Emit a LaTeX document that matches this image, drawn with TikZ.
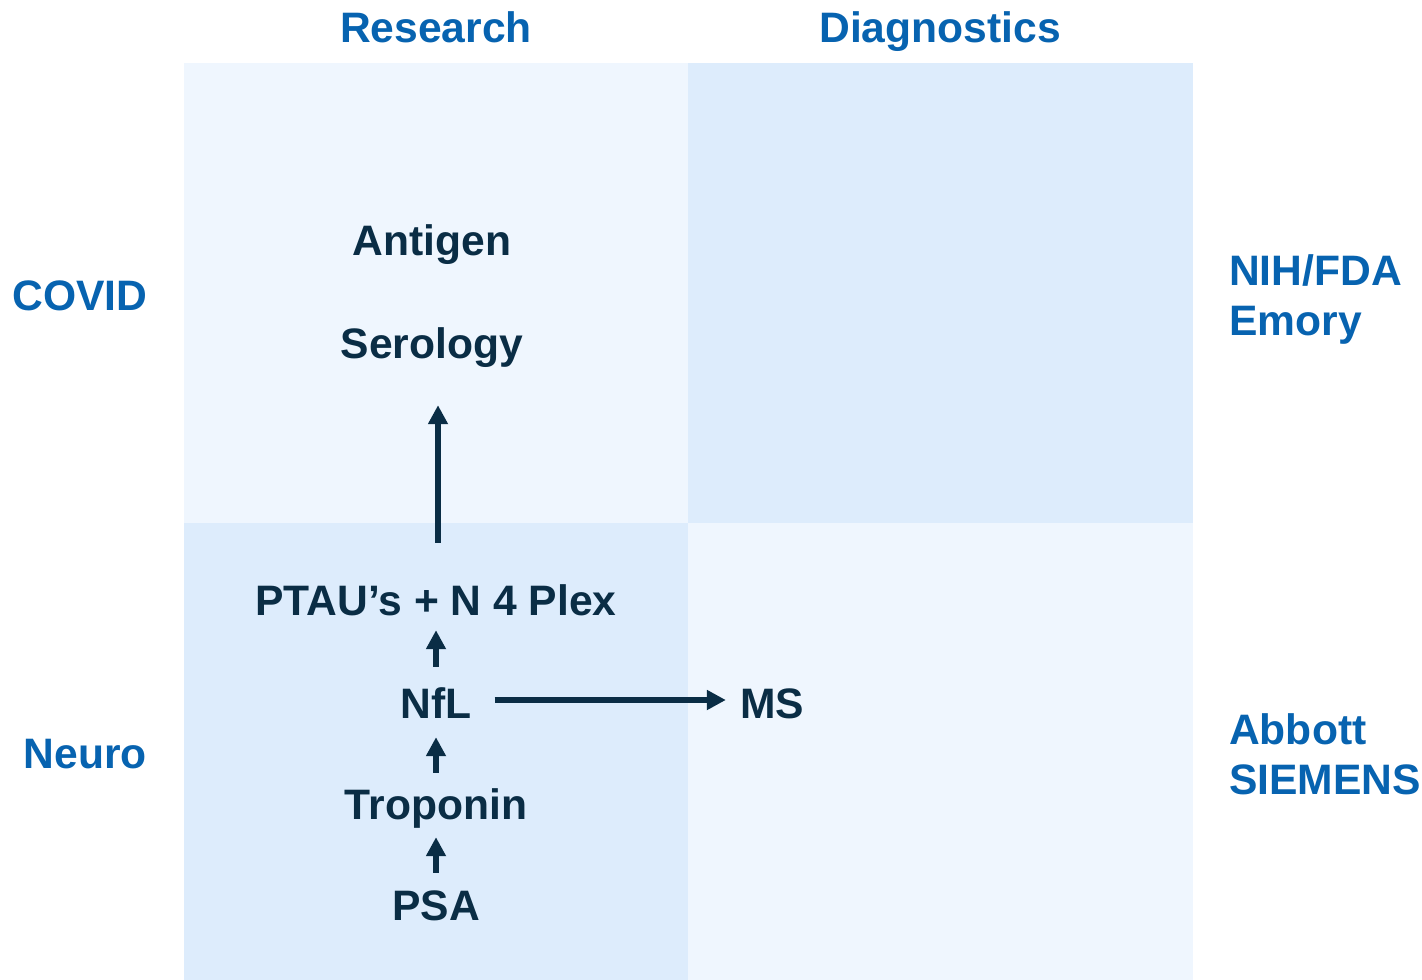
\documentclass[tikz,border=0pt]{standalone}
\usepackage{fontspec}
\setmainfont{Liberation Sans}
\usetikzlibrary{arrows.meta}
\definecolor{cellLight}{HTML}{EFF6FE}
\definecolor{cellDark}{HTML}{DDECFC}
\definecolor{headBlue}{HTML}{0763B0}
\definecolor{itemDark}{HTML}{0A2D45}
\tikzset{
  hdr/.style={font=\fontsize{42.6}{50}\selectfont\bfseries, text=headBlue, inner sep=0pt, anchor=base, text height=30pt, text depth=0pt},
  side/.style={hdr, anchor=base west},
  item/.style={font=\fontsize{42.6}{50}\selectfont\bfseries, text=itemDark, inner sep=0pt, anchor=base, text height=30pt, text depth=0pt},
  arr/.style={draw=itemDark, line width=6pt, -{Triangle[width=19pt,length=19pt]}}
}
\begin{document}
\begin{tikzpicture}[x=1pt,y=-1pt]
\useasboundingbox (0,0) rectangle (1422,980);
\fill[white] (0,0) rectangle (1422,980);
% grid cells
\fill[cellLight] (184,63) rectangle (688,523);
\fill[cellDark] (688,63) rectangle (1193,523);
\fill[cellDark] (184,523) rectangle (688,980);
\fill[cellLight] (688,523) rectangle (1193,980);
% headers
\node[hdr] (research) at (436,42) {Research};
\node[hdr] (diag) at (940,42) {Diagnostics};
\node[hdr] (covid) at (80,310) {COVID};
\node[hdr, anchor=base east] (neuro) at (147,768) {Neuro};
\node[side] (nih) at (1229,285) {NIH/FDA};
\node[side] (emory) at (1229,335) {Emory};
\node[side] (abbott) at (1229,744) {Abbott};
\node[side] (siemens) at (1229,794) {SIEMENS};
% items
\node[item] (antigen) at (432,255) {Antigen};
\node[item] (serology) at (432,358) {Serology};
\node[item] (ptau) at (436,615) {PTAU’s + N 4 Plex};
\node[item] (nfl) at (436,718) {NfL};
\node[item] (troponin) at (436,819) {Troponin};
\node[item] (psa) at (436,920) {PSA};
\node[item] (ms) at (772,718) {MS};
% arrows
\draw[arr, shorten <=42pt, shorten >=47pt] ([xshift=2pt]ptau.north) -- ([xshift=6pt]serology.south);
\draw[arr, shorten <=21pt, shorten >=15pt] (nfl.north) -- (ptau.south);
\draw[arr, shorten <=16pt, shorten >=19pt] (troponin.north) -- (nfl.south);
\draw[arr, shorten <=17pt, shorten >=18pt] (psa.north) -- (troponin.south);
\draw[arr, shorten <=23pt, shorten >=14pt] ([yshift=3pt]nfl.east) -- ([yshift=3pt]ms.west);
\end{tikzpicture}
\end{document}
